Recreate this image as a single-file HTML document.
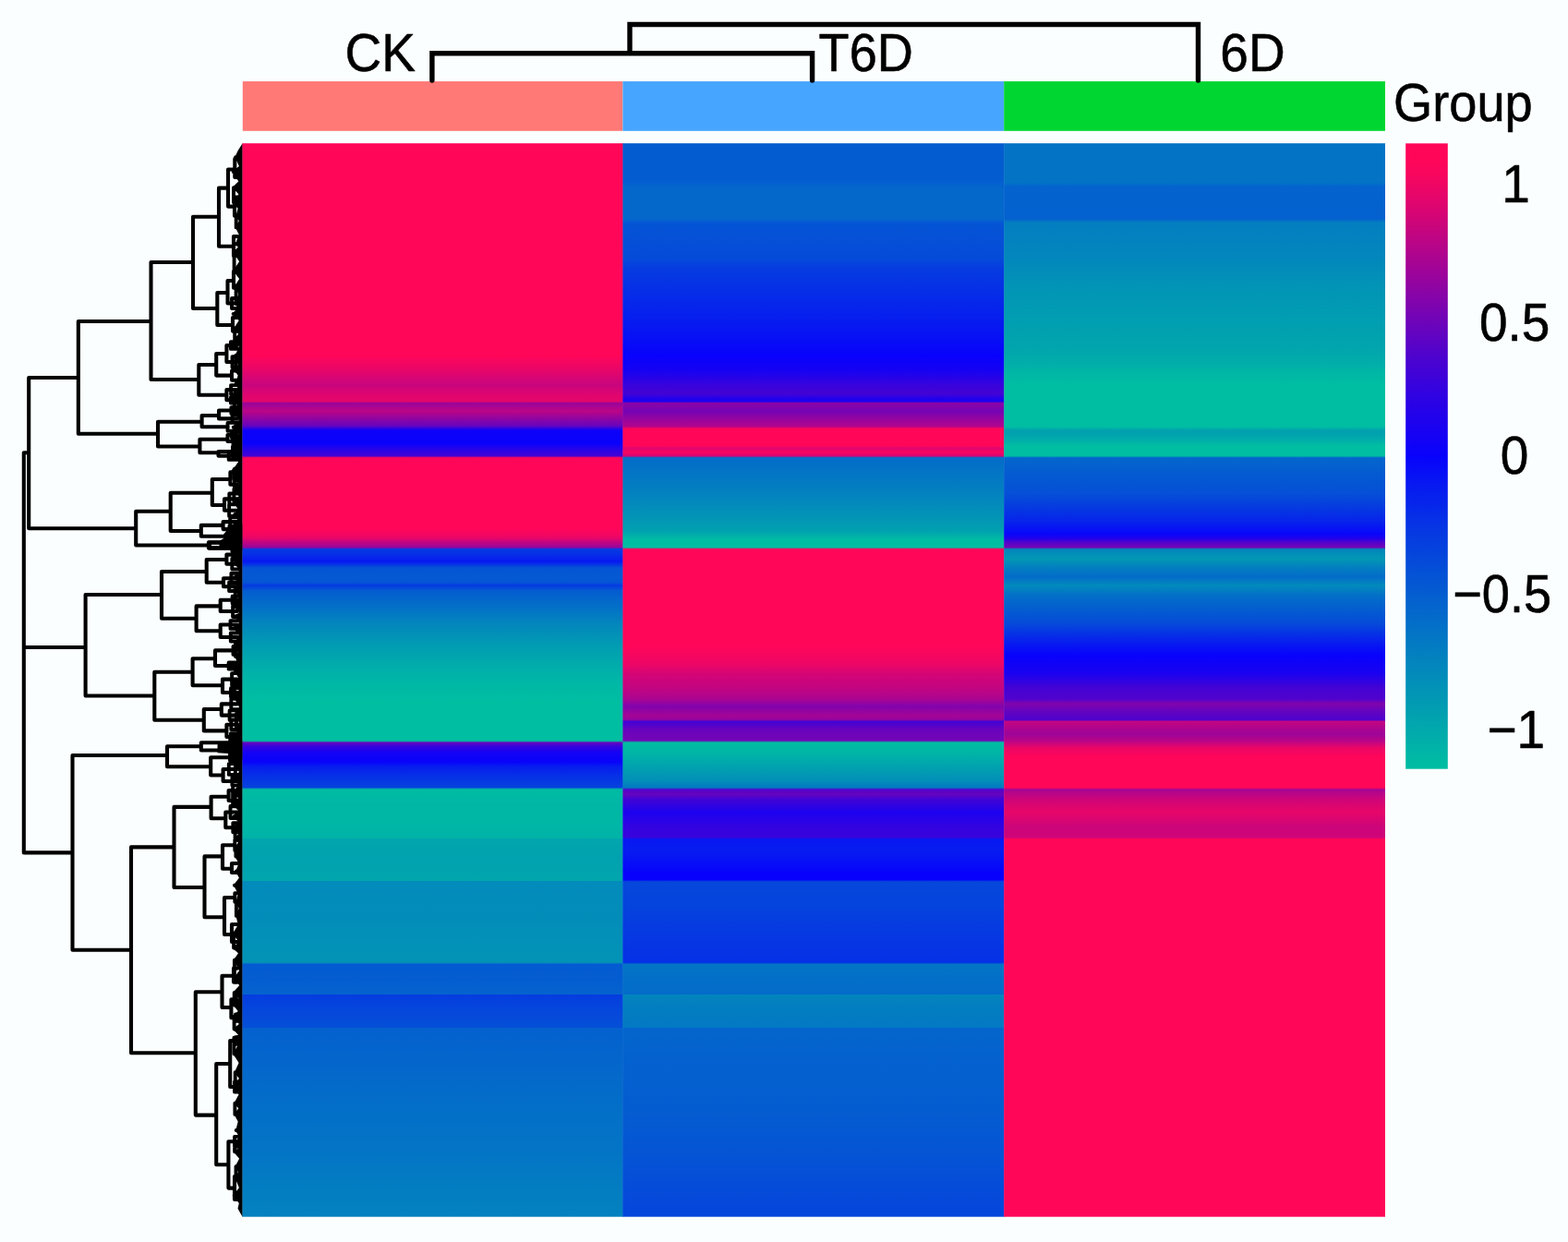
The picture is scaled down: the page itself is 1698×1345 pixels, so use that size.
<!DOCTYPE html>
<html lang="en"><head><meta charset="utf-8"><title>Heatmap</title>
<style>html,body{margin:0;padding:0;background:#fbfefe;}body{width:1698px;height:1345px;overflow:hidden;}svg{display:block;}</style>
</head><body>
<svg width="1698" height="1345" viewBox="0 0 1698 1345">
<defs>
<linearGradient id="gck" gradientUnits="userSpaceOnUse" x1="0" y1="155.2" x2="0" y2="1317.7"><stop offset="0.00000" stop-color="#ff0659"/><stop offset="0.18477" stop-color="#ff0659"/><stop offset="0.19768" stop-color="#ff0659"/><stop offset="0.20886" stop-color="#ec0666"/><stop offset="0.22520" stop-color="#c8057e"/><stop offset="0.23467" stop-color="#e0056e"/><stop offset="0.24039" stop-color="#e4066b"/><stop offset="0.24211" stop-color="#98049d"/><stop offset="0.24929" stop-color="#bc0585"/><stop offset="0.25703" stop-color="#8c04a5"/><stop offset="0.26305" stop-color="#6804bd"/><stop offset="0.26735" stop-color="#0d02f9"/><stop offset="0.27940" stop-color="#0802fc"/><stop offset="0.28628" stop-color="#2c03e4"/><stop offset="0.29123" stop-color="#4403d4"/><stop offset="0.29295" stop-color="#ff0659"/><stop offset="0.35854" stop-color="#ff0659"/><stop offset="0.36284" stop-color="#f8065e"/><stop offset="0.36714" stop-color="#ec0666"/><stop offset="0.37230" stop-color="#bc0585"/><stop offset="0.37639" stop-color="#98049d"/><stop offset="0.37811" stop-color="#0639e2"/><stop offset="0.38262" stop-color="#0630e6"/><stop offset="0.38951" stop-color="#0718f2"/><stop offset="0.39295" stop-color="#0639e2"/><stop offset="0.39553" stop-color="#0554d5"/><stop offset="0.40413" stop-color="#045ad2"/><stop offset="0.40929" stop-color="#0554d5"/><stop offset="0.41187" stop-color="#0639e2"/><stop offset="0.41445" stop-color="#054bd9"/><stop offset="0.41703" stop-color="#045dd0"/><stop offset="0.43424" stop-color="#0373c6"/><stop offset="0.44456" stop-color="#0382bf"/><stop offset="0.46004" stop-color="#0294b6"/><stop offset="0.46865" stop-color="#019db2"/><stop offset="0.48585" stop-color="#01acab"/><stop offset="0.50305" stop-color="#00b8a5"/><stop offset="0.52026" stop-color="#00bea2"/><stop offset="0.55660" stop-color="#00bea2"/><stop offset="0.55832" stop-color="#6804bd"/><stop offset="0.56155" stop-color="#3803dc"/><stop offset="0.56757" stop-color="#1402f4"/><stop offset="0.57617" stop-color="#0802fc"/><stop offset="0.58047" stop-color="#071def"/><stop offset="0.58908" stop-color="#0630e6"/><stop offset="0.60004" stop-color="#0542dd"/><stop offset="0.60176" stop-color="#00bca3"/><stop offset="0.61488" stop-color="#00b7a6"/><stop offset="0.63209" stop-color="#00b7a6"/><stop offset="0.64714" stop-color="#00b3a7"/><stop offset="0.64757" stop-color="#01a6ad"/><stop offset="0.66649" stop-color="#01a2af"/><stop offset="0.68671" stop-color="#01a6ad"/><stop offset="0.68714" stop-color="#028bbb"/><stop offset="0.72671" stop-color="#028eb9"/><stop offset="0.76305" stop-color="#0294b6"/><stop offset="0.76477" stop-color="#045ad2"/><stop offset="0.77832" stop-color="#045dd0"/><stop offset="0.79252" stop-color="#0463ce"/><stop offset="0.79295" stop-color="#063ce0"/><stop offset="0.80413" stop-color="#0545dc"/><stop offset="0.82348" stop-color="#054fd7"/><stop offset="0.82391" stop-color="#0461cf"/><stop offset="0.85574" stop-color="#0466cc"/><stop offset="0.89875" stop-color="#036fc8"/><stop offset="0.94176" stop-color="#0375c5"/><stop offset="0.97617" stop-color="#037ec1"/><stop offset="1.00000" stop-color="#0382bf"/></linearGradient>
<linearGradient id="gt6" gradientUnits="userSpaceOnUse" x1="0" y1="155.2" x2="0" y2="1317.7"><stop offset="0.00000" stop-color="#045dd0"/><stop offset="0.03424" stop-color="#045dd0"/><stop offset="0.04284" stop-color="#0468cb"/><stop offset="0.07037" stop-color="#0468cb"/><stop offset="0.07467" stop-color="#0554d5"/><stop offset="0.10735" stop-color="#054bd9"/><stop offset="0.11596" stop-color="#063ce0"/><stop offset="0.15037" stop-color="#0626eb"/><stop offset="0.17617" stop-color="#0714f3"/><stop offset="0.19768" stop-color="#0802fc"/><stop offset="0.21058" stop-color="#1402f4"/><stop offset="0.22520" stop-color="#3803dc"/><stop offset="0.23295" stop-color="#4403d4"/><stop offset="0.23811" stop-color="#2002ec"/><stop offset="0.24039" stop-color="#1b02ef"/><stop offset="0.24211" stop-color="#8c04a5"/><stop offset="0.24929" stop-color="#7404b5"/><stop offset="0.25875" stop-color="#9d049a"/><stop offset="0.26391" stop-color="#b0058d"/><stop offset="0.26563" stop-color="#ff0659"/><stop offset="0.28198" stop-color="#ff0659"/><stop offset="0.28370" stop-color="#e0056e"/><stop offset="0.28628" stop-color="#ec0666"/><stop offset="0.28800" stop-color="#f8065e"/><stop offset="0.29123" stop-color="#d40576"/><stop offset="0.29295" stop-color="#036cc9"/><stop offset="0.32069" stop-color="#037ec1"/><stop offset="0.33703" stop-color="#028bbb"/><stop offset="0.35252" stop-color="#0298b4"/><stop offset="0.36112" stop-color="#01a1b0"/><stop offset="0.36542" stop-color="#01afa9"/><stop offset="0.36972" stop-color="#00bea2"/><stop offset="0.37639" stop-color="#00bea2"/><stop offset="0.37811" stop-color="#ff0659"/><stop offset="0.46348" stop-color="#ff0659"/><stop offset="0.46865" stop-color="#ff0659"/><stop offset="0.48585" stop-color="#ec0666"/><stop offset="0.49445" stop-color="#d40576"/><stop offset="0.50735" stop-color="#c30581"/><stop offset="0.51768" stop-color="#ab0590"/><stop offset="0.52456" stop-color="#8004ad"/><stop offset="0.53316" stop-color="#a40595"/><stop offset="0.53682" stop-color="#98049d"/><stop offset="0.53854" stop-color="#4403d4"/><stop offset="0.54176" stop-color="#5003cd"/><stop offset="0.54606" stop-color="#6804bd"/><stop offset="0.55639" stop-color="#7404b5"/><stop offset="0.55811" stop-color="#00bea2"/><stop offset="0.56757" stop-color="#00b5a6"/><stop offset="0.58047" stop-color="#01a2af"/><stop offset="0.59338" stop-color="#0290b8"/><stop offset="0.60026" stop-color="#0379c3"/><stop offset="0.60198" stop-color="#5003cd"/><stop offset="0.60628" stop-color="#6804bd"/><stop offset="0.61058" stop-color="#4403d4"/><stop offset="0.62348" stop-color="#1b02ef"/><stop offset="0.63639" stop-color="#3303e0"/><stop offset="0.64649" stop-color="#3803dc"/><stop offset="0.64822" stop-color="#0718f2"/><stop offset="0.65789" stop-color="#071def"/><stop offset="0.66822" stop-color="#0711f5"/><stop offset="0.67940" stop-color="#0802fc"/><stop offset="0.68606" stop-color="#0802fc"/><stop offset="0.68778" stop-color="#0547db"/><stop offset="0.70951" stop-color="#0544dd"/><stop offset="0.72671" stop-color="#063ce0"/><stop offset="0.76305" stop-color="#0630e6"/><stop offset="0.76477" stop-color="#0375c5"/><stop offset="0.77832" stop-color="#036fc8"/><stop offset="0.79252" stop-color="#036cc9"/><stop offset="0.79295" stop-color="#0285bd"/><stop offset="0.80413" stop-color="#037ec1"/><stop offset="0.82348" stop-color="#0379c3"/><stop offset="0.82391" stop-color="#0466cc"/><stop offset="0.85574" stop-color="#0461cf"/><stop offset="0.89875" stop-color="#045dd0"/><stop offset="0.94176" stop-color="#0554d5"/><stop offset="0.97617" stop-color="#054bd9"/><stop offset="1.00000" stop-color="#0545dc"/></linearGradient>
<linearGradient id="g6d" gradientUnits="userSpaceOnUse" x1="0" y1="155.2" x2="0" y2="1317.7"><stop offset="0.00000" stop-color="#0373c6"/><stop offset="0.03682" stop-color="#0373c6"/><stop offset="0.04026" stop-color="#0463ce"/><stop offset="0.07037" stop-color="#0461cf"/><stop offset="0.07381" stop-color="#037ec1"/><stop offset="0.10735" stop-color="#0287bc"/><stop offset="0.13316" stop-color="#0294b6"/><stop offset="0.16757" stop-color="#019fb1"/><stop offset="0.19338" stop-color="#01a6ad"/><stop offset="0.20628" stop-color="#01afa9"/><stop offset="0.21488" stop-color="#00b8a5"/><stop offset="0.22520" stop-color="#00bea2"/><stop offset="0.26391" stop-color="#00bea2"/><stop offset="0.26735" stop-color="#01a1b0"/><stop offset="0.27080" stop-color="#01a2af"/><stop offset="0.27510" stop-color="#01aaac"/><stop offset="0.28198" stop-color="#00bea2"/><stop offset="0.29123" stop-color="#00bea2"/><stop offset="0.29295" stop-color="#0466cc"/><stop offset="0.30520" stop-color="#045dd0"/><stop offset="0.32671" stop-color="#054fd7"/><stop offset="0.33703" stop-color="#053edf"/><stop offset="0.35252" stop-color="#0723ec"/><stop offset="0.36370" stop-color="#0806fa"/><stop offset="0.36800" stop-color="#2002ec"/><stop offset="0.37144" stop-color="#5003cd"/><stop offset="0.37639" stop-color="#7404b5"/><stop offset="0.37811" stop-color="#0285bd"/><stop offset="0.38692" stop-color="#0298b4"/><stop offset="0.39553" stop-color="#037ec1"/><stop offset="0.40413" stop-color="#036cc9"/><stop offset="0.41187" stop-color="#028bbb"/><stop offset="0.42133" stop-color="#036fc8"/><stop offset="0.43424" stop-color="#045dd0"/><stop offset="0.44714" stop-color="#054bd9"/><stop offset="0.46004" stop-color="#062ae9"/><stop offset="0.46865" stop-color="#0714f3"/><stop offset="0.47725" stop-color="#0802fc"/><stop offset="0.49445" stop-color="#1b02ef"/><stop offset="0.50735" stop-color="#4403d4"/><stop offset="0.51768" stop-color="#5003cd"/><stop offset="0.52198" stop-color="#8004ad"/><stop offset="0.52542" stop-color="#7404b5"/><stop offset="0.52886" stop-color="#6303c0"/><stop offset="0.53703" stop-color="#5003cd"/><stop offset="0.53875" stop-color="#c30581"/><stop offset="0.55037" stop-color="#9d049a"/><stop offset="0.55725" stop-color="#bc0585"/><stop offset="0.56327" stop-color="#ec0666"/><stop offset="0.57187" stop-color="#ff0659"/><stop offset="0.60026" stop-color="#ff0659"/><stop offset="0.60198" stop-color="#a40595"/><stop offset="0.60628" stop-color="#bc0585"/><stop offset="0.61488" stop-color="#d80572"/><stop offset="0.62348" stop-color="#e70669"/><stop offset="0.63639" stop-color="#cc057a"/><stop offset="0.64649" stop-color="#cf0579"/><stop offset="0.64822" stop-color="#ff0659"/><stop offset="0.68628" stop-color="#ff0659"/><stop offset="0.68714" stop-color="#ff0659"/><stop offset="1.00000" stop-color="#ff0659"/></linearGradient>
<linearGradient id="gcb" gradientUnits="userSpaceOnUse" x1="0" y1="155.3" x2="0" y2="832.7"><stop offset="0.0000" stop-color="#ff0659"/><stop offset="0.0250" stop-color="#ff0659"/><stop offset="0.0500" stop-color="#f7065e"/><stop offset="0.0750" stop-color="#ea0667"/><stop offset="0.1000" stop-color="#dd0570"/><stop offset="0.1250" stop-color="#ce0579"/><stop offset="0.1500" stop-color="#bf0583"/><stop offset="0.1750" stop-color="#b0058d"/><stop offset="0.2000" stop-color="#a10497"/><stop offset="0.2250" stop-color="#9204a1"/><stop offset="0.2500" stop-color="#8304ab"/><stop offset="0.2750" stop-color="#7404b5"/><stop offset="0.3000" stop-color="#6504bf"/><stop offset="0.3250" stop-color="#5703c8"/><stop offset="0.3500" stop-color="#4903d1"/><stop offset="0.3750" stop-color="#3d03d9"/><stop offset="0.4000" stop-color="#3103e1"/><stop offset="0.4250" stop-color="#2602e8"/><stop offset="0.4500" stop-color="#1c02ef"/><stop offset="0.4750" stop-color="#1202f6"/><stop offset="0.5000" stop-color="#0802fc"/><stop offset="0.5250" stop-color="#070ff6"/><stop offset="0.5500" stop-color="#071bf0"/><stop offset="0.5750" stop-color="#0625eb"/><stop offset="0.6000" stop-color="#0630e6"/><stop offset="0.6250" stop-color="#063ae1"/><stop offset="0.6500" stop-color="#0543dd"/><stop offset="0.6750" stop-color="#054dd8"/><stop offset="0.7000" stop-color="#0456d4"/><stop offset="0.7250" stop-color="#045fcf"/><stop offset="0.7500" stop-color="#0468cb"/><stop offset="0.7750" stop-color="#0371c7"/><stop offset="0.8000" stop-color="#037ac3"/><stop offset="0.8250" stop-color="#0383be"/><stop offset="0.8500" stop-color="#028bba"/><stop offset="0.8750" stop-color="#0294b6"/><stop offset="0.9000" stop-color="#019cb2"/><stop offset="0.9250" stop-color="#01a5ae"/><stop offset="0.9500" stop-color="#01adaa"/><stop offset="0.9750" stop-color="#00b6a6"/><stop offset="1.0000" stop-color="#00bea2"/></linearGradient>
</defs>
<rect width="1698" height="1345" fill="#fbfefe"/>
<rect x="262.8" y="88.1" width="411.59999999999997" height="53.70000000000002" fill="#ff7976"/>
<rect x="674.4" y="88.1" width="412.80000000000007" height="53.70000000000002" fill="#46a5ff"/>
<rect x="1087.2" y="88.1" width="412.79999999999995" height="53.70000000000002" fill="#00d632"/>
<rect x="262.2" y="155.2" width="412.7" height="1162.5" fill="url(#gck)"/>
<rect x="674.4" y="155.2" width="413.30000000000007" height="1162.5" fill="url(#gt6)"/>
<rect x="1087.2" y="155.2" width="412.79999999999995" height="1162.5" fill="url(#g6d)"/>
<rect x="1522.2" y="155.3" width="45.6" height="677.4000000000001" fill="url(#gcb)"/>
<g fill="none" stroke="#000" stroke-width="4.1" stroke-linejoin="round" stroke-linecap="round">
<path d="M467.9 87V57.8H879.6V87M682 57.8V26.5H1297.5V87" stroke-width="5.4" stroke-linejoin="miter"/>
<path d="M31.2 490.3H25.8V923.4H78.5M84.8 409H31.2V572.3H147.2M163.5 348H84.8V469.7H171M209 284H163.5V411H215.3M237 234.8H209V334H235.3M247 203.6H237V266.7H253M254.3 183.5H247V223.6H254M257 172H254.3V192H257M257 213.6H254V233.7H257M257 256H253V277H257M246.5 317H235.3V352H252M253 304H246.5V328.5H257M257 294H253V311.8H257M257 344H252V358.6H257M234.2 395H215.3V427.8H245.4M245.4 383H234.2V406.6H251M257 374H245.4V392H257M257 422H245.4V433.3H257M218.6 456.8H171V483.5H216.4M237 450H218.6V462.3H246.5M257 444.5H237V453.4H257M246.5 475.7H216.4V490.2H236.5M257 471H246.5V478H257M257 489H236.5V493.6H257M184.7 553.8H147.2V590.5H225.9M229.8 533.7H184.7V575H217.5M249.4 519H229.8V547H243M257 511.4H249.4V524.8H257M257 540.4H243V552.7H257M241.6 568.9H217.8V580.8H257M257 565.1H241.6V573.1H257M257 587.4H225.9V593.6H257M175 644H92.6V753.5H167.3M223.7 619H175V669.8H212.6M245.4 606H223.7V630.8H242M257 600.6H245.4V610.7H257M257 626.3H242V635.2H257M238.7 656.4H212.6V683.2H238.7M257 649.7H238.7V662H257M257 676.5H238.7V690H257M208.6 727.8H167.3V779.8H220.8M233 713.3H208.6V742.3H241M257 704.4H233V721H257M257 735.6H241V750H257M239.8 768H220.8V791.4H245.4M257 762.4H239.8V774.6H257M257 784.7H245.4V798H257M180.7 818H78.5V1028.7H142M217.8 808.2H181V830.2H228.2M257 804.3H217.8V812.5H257M257 820.2H228.2V839.5H241.6M257 833H241.6V846H257M188.5 917.4H142V1140.3H211.8M228.6 873.9H188.5V961H221.5M247.6 862.8H228.6V886.2H244.3M257 856H247.6V867H257M257 879.5H244.3V896.2H257M241 927.4H221.5V993.3H243M254.3 915.2H241V940.8H251M257 935H251V945H257M254.3 972H243V1012H251M257 1001H251V1020H257M240.5 1074.3H211.8V1207.6H234.2M253 1056.8H240.5V1091H250.4M257 1048.6H253V1063.6H257M257 1082.3H250.4V1102.2H257M249.2 1152H234.2V1261.2H247.4M255.4 1127H249.2V1177H254M254 1236.3H247.4V1286.6H254M257 1274H254V1299H257M25.8 701H92.6"/>
</g>
<path d="M262.4 155.4L257.6 163.2L255.1 168.6L255.1 171.8L258.9 179.9L252.7 184.5L252.7 187.7L258.3 196.4L253.0 201.6L253.0 204.8L258.4 210.2L253.0 217.7L253.0 220.9L257.6 225.7L255.7 232.7L255.7 235.9L258.8 239.0L255.7 244.8L255.7 248.0L258.6 253.8L255.6 262.6L255.6 265.8L257.9 267.5L253.6 271.6L253.6 274.8L259.1 283.2L253.6 291.4L253.6 294.6L259.1 302.0L255.6 307.8L255.6 311.0L258.1 318.7L255.6 327.5L255.6 330.7L257.7 333.7L252.6 338.3L252.6 341.5L258.7 347.1L254.2 353.9L254.2 357.1L258.1 361.7L254.2 366.3L254.2 369.5L259.2 374.4L255.5 383.1L255.5 386.3L257.6 394.5L255.5 400.3L255.5 403.5L257.6 406.6L255.8 413.4L255.8 416.6L257.9 421.5L253.8 424.4L253.8 427.6L258.2 435.7L253.8 443.6L253.8 446.8L258.8 455.1L252.7 461.1L252.7 464.3L259.1 470.3L255.7 479.6L255.7 482.8L258.1 489.2L255.7 492.3L255.7 495.5L258.1 500.1L253.1 507.3L253.1 510.5L258.7 515.8L253.1 517.2L253.1 520.4L259.2 524.3L253.4 528.0L253.4 531.2L258.6 537.6L253.4 541.4L253.4 544.6L257.7 551.7L254.3 555.4L254.3 558.6L258.9 560.2L254.7 564.8L254.7 568.0L258.9 573.3L254.7 581.8L254.7 585.0L259.0 589.5L256.0 595.6L256.0 598.8L259.0 606.1L256.0 609.6L256.0 612.8L258.8 618.1L254.0 623.6L254.0 626.8L257.8 630.8L254.7 635.8L254.7 639.0L258.4 646.7L254.7 655.7L254.7 658.9L258.9 663.7L255.3 665.6L255.3 668.8L258.8 674.5L253.8 678.6L253.8 681.8L258.7 687.5L254.9 694.9L254.9 698.1L258.1 705.5L254.9 709.3L254.9 712.5L257.6 719.1L254.9 725.4L254.9 728.6L258.3 734.2L253.8 737.2L253.8 740.4L258.6 747.8L253.8 753.3L253.8 756.5L258.9 765.4L255.9 771.4L255.9 774.6L259.1 781.4L255.9 788.0L255.9 791.2L258.9 798.7L255.0 802.8L255.0 806.0L258.8 812.4L254.6 817.0L254.6 820.2L258.7 823.8L254.8 827.9L254.8 831.1L258.8 835.6L254.8 843.8L254.8 847.0L258.6 849.7L254.7 854.6L254.7 857.8L257.7 864.3L254.7 871.1L254.7 874.3L257.8 877.7L253.3 882.6L253.3 885.8L257.7 889.6L254.6 893.6L254.6 896.8L258.0 903.4L254.6 906.8L254.6 910.0L258.0 912.5L255.4 915.8L255.4 919.0L258.2 920.7L255.4 926.0L255.4 929.2L258.5 934.9L255.9 941.8L255.9 945.0L258.9 950.8L253.9 957.2L253.9 960.4L257.8 968.1L255.9 975.1L255.9 978.3L258.6 983.7L255.9 990.3L255.9 993.5L257.8 1001.6L253.1 1009.2L253.1 1012.4L258.6 1020.2L253.1 1024.9L253.1 1028.1L258.0 1032.3L253.9 1038.1L253.9 1041.3L259.1 1051.2L253.9 1057.8L253.9 1061.0L259.2 1067.1L253.7 1073.3L253.7 1076.5L259.2 1081.7L253.7 1086.9L253.7 1090.1L257.8 1095.0L253.6 1099.0L253.6 1102.2L258.9 1108.9L253.6 1112.9L253.6 1116.1L258.0 1120.8L253.4 1122.1L253.4 1125.3L258.0 1131.1L253.4 1139.7L253.4 1142.9L258.6 1151.1L254.7 1159.5L254.7 1162.7L258.8 1167.7L254.7 1175.6L254.7 1178.8L258.5 1185.3L254.4 1193.0L254.4 1196.2L258.3 1200.2L254.4 1205.3L254.4 1208.5L257.7 1214.5L255.7 1222.4L255.7 1225.6L259.0 1231.2L254.1 1236.5L254.1 1239.7L258.5 1243.5L254.1 1245.6L254.1 1248.8L259.1 1254.7L255.5 1261.6L255.5 1264.8L257.9 1269.0L255.5 1274.9L255.5 1278.1L258.9 1286.3L253.6 1293.0L253.6 1296.2L258.8 1303.1L257.5 1308.7L262.4 1317.5Z" fill="#000"/>
<path d="M242.2 578.5L250 569L262.3 568V595.6H226V585.5H238L242.2 583Z" fill="#000"/>
<path d="M235.5 806.3L247 803L262.3 802V822L250 818L247 816L235.5 815.3Z" fill="#000"/>
<path d="M255.1 170.2H260M252.7 186.1H260M253.0 203.2H260M253.0 203.2V219.3M253.0 219.3H260M255.7 234.3H260M255.7 234.3V246.4M255.7 246.4H260M255.6 264.2H260M253.6 273.2H260M253.6 273.2V293.0M253.6 293.0H260M255.6 309.4H260M255.6 309.4V329.1M255.6 329.1H260M252.6 339.9H260M254.2 355.5H260M254.2 355.5V367.9M254.2 367.9H260M255.5 384.7H260M255.5 384.7V401.9M255.5 401.9H260M255.8 415.0H260M253.8 426.0H260M253.8 426.0V445.2M253.8 445.2H260M252.7 462.7H260M255.7 481.2H260M255.7 481.2V493.9M255.7 493.9H260M253.1 508.9H260M253.1 508.9V518.8M253.1 518.8H260M253.4 529.6H260M253.4 529.6V543.0M253.4 543.0H260M254.3 557.0H260M254.7 566.4H260M254.7 566.4V583.4M254.7 583.4H260M256.0 597.2H260M256.0 597.2V611.2M256.0 611.2H260M254.0 625.2H260M254.7 637.4H260M254.7 637.4V657.3M254.7 657.3H260M255.3 667.2H260M253.8 680.2H260M254.9 696.5H260M254.9 696.5V710.9M254.9 710.9H260M254.9 727.0H260M253.8 738.8H260M253.8 738.8V754.9M253.8 754.9H260M255.9 773.0H260M255.9 773.0V789.6M255.9 789.6H260M255.0 804.4H260M254.6 818.6H260M254.8 829.5H260M254.8 829.5V845.4M254.8 845.4H260M254.7 856.2H260M254.7 856.2V872.7M254.7 872.7H260M253.3 884.2H260M254.6 895.2H260M254.6 895.2V908.4M254.6 908.4H260M255.4 917.4H260M255.4 917.4V927.6M255.4 927.6H260M255.9 943.4H260M253.9 958.8H260M255.9 976.7H260M255.9 976.7V991.9M255.9 991.9H260M253.1 1010.8H260M253.1 1010.8V1026.5M253.1 1026.5H260M253.9 1039.7H260M253.9 1039.7V1059.4M253.9 1059.4H260M253.7 1074.9H260M253.7 1074.9V1088.5M253.7 1088.5H260M253.6 1100.6H260M253.6 1100.6V1114.5M253.6 1114.5H260M253.4 1123.7H260M253.4 1123.7V1141.3M253.4 1141.3H260M254.7 1161.1H260M254.7 1161.1V1177.2M254.7 1177.2H260M254.4 1194.6H260M254.4 1194.6V1206.9M254.4 1206.9H260M255.7 1224.0H260M254.1 1238.1H260M254.1 1238.1V1247.2M254.1 1247.2H260M255.5 1263.2H260M255.5 1263.2V1276.5M255.5 1276.5H260M253.6 1294.6H260M258 323.0H251.0V334.0H258M258 401.5H251.0V411.7H258M258 370.1H249.9V377.9H258M258 386.1H251.5V397.9H258M258 417.1H250.1V426.9H258M258 430.1H249.9V436.5H258M258 457.9H246.5V466.7H258M258 441.1H250.4V447.9H258M258 449.4H251.5V457.4H258M258 467.7H251.0V474.3H258M258 472.4H252.5V483.6H258M258 483.8H251.9V494.2H258M258 489.3H247.7V497.9H258M258 507.8H253.9V515.0H258M258 520.4H253.9V529.2H258M258 534.5H248.3V546.3H258M258 546.4H248.1V559.0H258M258 575.8H249.8V585.8H258M258 560.3H249.2V569.9H258M258 569.8H248.4V576.4H258M258 583.4H251.8V591.4H258M258 589.7H251.4V597.5H258M258 594.4H252.3V606.8H258M258 605.0H251.3V616.4H258M258 620.7H250.4V631.9H258M258 630.4H248.1V640.0H258M258 645.8H251.6V653.6H258M258 655.9H252.1V668.1H258M258 672.1H249.5V680.9H258M258 685.5H249.8V694.5H258M258 699.9H252.5V708.9H258M258 717.5H247.6V724.5H258M258 729.1H251.1V742.1H258M258 745.2H250.0V754.8H258M258 756.7H250.3V768.1H258M258 769.4H248.6V779.8H258M258 779.4H250.3V790.0H258M258 794.2H249.9V801.8H258M258 798.0H249.2V810.6H258M258 807.3H249.2V817.7H258M258 816.7H249.0V823.7H258M258 827.1H247.8V838.9H258M258 841.6H251.4V850.4H258M258 850.6H252.1V861.4H258M258 860.6H252.1V873.4H258M258 873.0H249.5V886.0H258M258 891.1H252.3V901.3H258M258 909.5H254.3V920.9H258M258 967.3H254.3V976.7H258M258 1078.3H254.9V1086.3H258M258 1098.5H254.9V1105.9H258M258 1123.3H255.4V1130.7H258M258 1171.5H254.0V1182.5H258M258 1230.9H254.0V1241.7H258" fill="none" stroke="#000" stroke-width="3.9" stroke-linecap="round" stroke-linejoin="round"/>
<path d="M229 590.5H237.5" fill="none" stroke="#fbfefe" stroke-width="1.3"/>
<g font-family="'Liberation Sans', Arial, Helvetica, sans-serif" font-size="55" fill="#000" stroke="#000" stroke-width="0.55" stroke-linejoin="round">
<text transform="translate(373.5 76.9) scale(1.0 1.045)">CK</text>
<text transform="translate(886.6 76.9) scale(0.985 1.045)">T6D</text>
<text transform="translate(1321.3 76.8) scale(1.0 1.045)">6D</text>
<text transform="translate(1509.1 131.4) scale(0.985 1.04)">Group</text>
<text transform="translate(1626.2 219.4) scale(1.0 1.045)">1</text>
<text transform="translate(1602 368.5) scale(1.0 1.045)">0.5</text>
<text transform="translate(1624.7 512.6) scale(1.0 1.045)">0</text>
<text transform="translate(1573.2 662.6) scale(0.985 1.045)">−0.5</text>
<text transform="translate(1610.5 809.5) scale(1.0 1.045)">−1</text>
</g>
</svg>
</body></html>
